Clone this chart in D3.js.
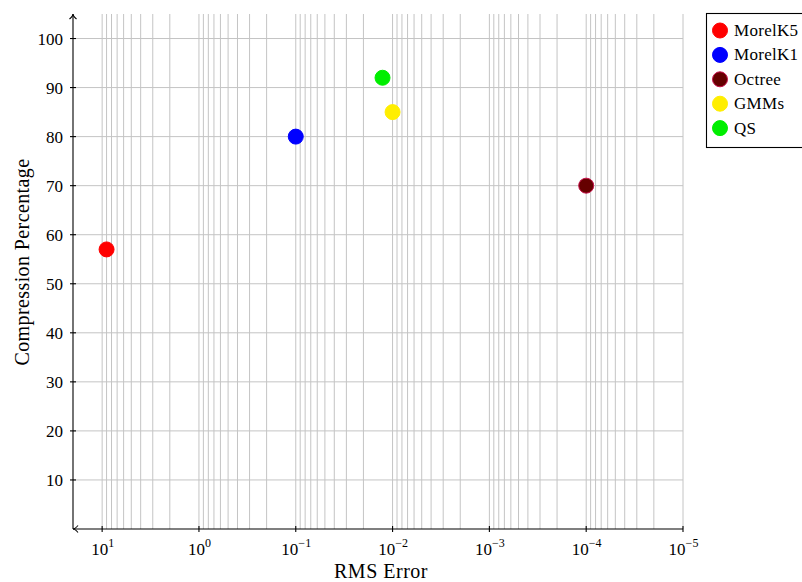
<!DOCTYPE html>
<html>
<head>
<meta charset="utf-8">
<script src="https://cdn.jsdelivr.net/npm/d3@7"></script>
<style>
  body { margin: 0; background: #fff; }
  svg { display: block; font-family: "Liberation Serif", "DejaVu Serif", serif; }
</style>
</head>
<body>
<svg id="chart" width="802" height="582"></svg>
<script>
// ---- data ----
const methods = ["MorelK5", "MorelK1", "Octree", "GMMs", "QS"];
const rmsError = [9, 0.1, 0.0001, 0.01, 0.0127];
const compression = [57, 80, 70, 85, 92];
const fillColors = ["#ff0000", "#0000ff", "#650000", "#ffee00", "#00ee00"];
const strokeColors = ["#ff0000", "#0000ff", "#c8104a", "#ffee00", "#00ee00"];
const xTickExponents = [1, 0, -1, -2, -3, -4, -5];
const yTicks = [10, 20, 30, 40, 50, 60, 70, 80, 90, 100];

// ---- layout ----
const L = 73, R = 683, T = 14, B = 529;
const svg = d3.select("#chart");

const x = d3.scaleLog().domain([20, 1e-5]).range([L, R]);
const y = d3.scaleLinear().domain([0, 105]).range([B, T]);

// grid: vertical (major + minor)
const vgrid = [];
for (let d = -5; d <= 1; d++) {
  for (let k = 1; k <= 9; k++) {
    const v = k * Math.pow(10, d);
    if (v < 20 && v >= 1e-5) vgrid.push(v);
  }
}
svg.append("g").selectAll("line").data(vgrid).join("line")
  .attr("x1", d => x(d)).attr("x2", d => x(d))
  .attr("y1", T).attr("y2", B)
  .attr("stroke", "#c4c4c4").attr("stroke-width", 1);

// grid: horizontal
svg.append("g").selectAll("line").data(yTicks).join("line")
  .attr("x1", L).attr("x2", R)
  .attr("y1", d => y(d)).attr("y2", d => y(d))
  .attr("stroke", "#c4c4c4").attr("stroke-width", 1);

// axes lines
const axisG = svg.append("g").attr("stroke", "#000").attr("fill", "none").attr("stroke-width", 1.1);
axisG.append("line").attr("x1", L).attr("x2", R).attr("y1", B).attr("y2", B);
axisG.append("line").attr("x1", L).attr("x2", L).attr("y1", B).attr("y2", T);
// arrow heads
axisG.append("path").attr("d", `M${L+5},${B-3.5} Q${L+2},${B} ${L},${B} Q${L+2},${B} ${L+5},${B+3.5}`);
axisG.append("path").attr("d", `M${L-3.5},${T+5} Q${L},${T+2} ${L},${T} Q${L},${T+2} ${L+3.5},${T+5}`);

// x ticks
const xTickVals = xTickExponents.map(e => Math.pow(10, e));
axisG.selectAll(".xt").data(xTickVals).join("line").attr("class", "xt")
  .attr("x1", d => x(d)).attr("x2", d => x(d))
  .attr("y1", B - 3).attr("y2", B + 3);
// y ticks
axisG.selectAll(".yt").data(yTicks).join("line").attr("class", "yt")
  .attr("x1", L - 3).attr("x2", L + 3)
  .attr("y1", d => y(d)).attr("y2", d => y(d));

// x tick labels
const xl = svg.append("g").attr("font-size", 17).attr("fill", "#000");
xTickExponents.forEach(e => {
  const t = xl.append("text").attr("x", x(Math.pow(10, e)) + 0.5).attr("y", 555).attr("text-anchor", "middle");
  t.append("tspan").text("10");
  t.append("tspan").attr("font-size", 12).attr("dy", -8).text(e < 0 ? "\u2212" + (-e) : String(e));
});

// y tick labels
svg.append("g").attr("font-size", 17).selectAll("text").data(yTicks).join("text")
  .attr("x", 63).attr("y", d => y(d) + 6)
  .attr("text-anchor", "end").text(d => d);

// axis titles
svg.append("text").attr("x", 381).attr("y", 578).attr("text-anchor", "middle")
  .attr("font-size", 20).attr("letter-spacing", 0.5).text("RMS Error");
svg.append("text").attr("transform", "translate(28.5,262) rotate(-90)").attr("text-anchor", "middle")
  .attr("font-size", 20).attr("letter-spacing", 0.4).text("Compression Percentage");

// points
svg.append("g").selectAll("circle").data(methods).join("circle")
  .attr("cx", (d, i) => x(rmsError[i]))
  .attr("cy", (d, i) => y(compression[i]))
  .attr("r", 7.5)
  .attr("fill", (d, i) => fillColors[i])
  .attr("stroke", (d, i) => strokeColors[i]).attr("stroke-width", 1);

// legend
const lg = svg.append("g");
lg.append("rect").attr("x", 706.5).attr("y", 13.5).attr("width", 100).attr("height", 134)
  .attr("fill", "#fff").attr("stroke", "#000").attr("stroke-width", 1.1);
methods.forEach((m, i) => {
  const cy = 30.5 + i * 24.4;
  lg.append("circle").attr("cx", 720).attr("cy", cy).attr("r", 7.5)
    .attr("fill", fillColors[i]).attr("stroke", strokeColors[i]).attr("stroke-width", 1);
  lg.append("text").attr("x", 734).attr("y", cy + 5.5).attr("font-size", 17)
    .attr("letter-spacing", 0.3).text(m);
});
</script>
</body>
</html>
